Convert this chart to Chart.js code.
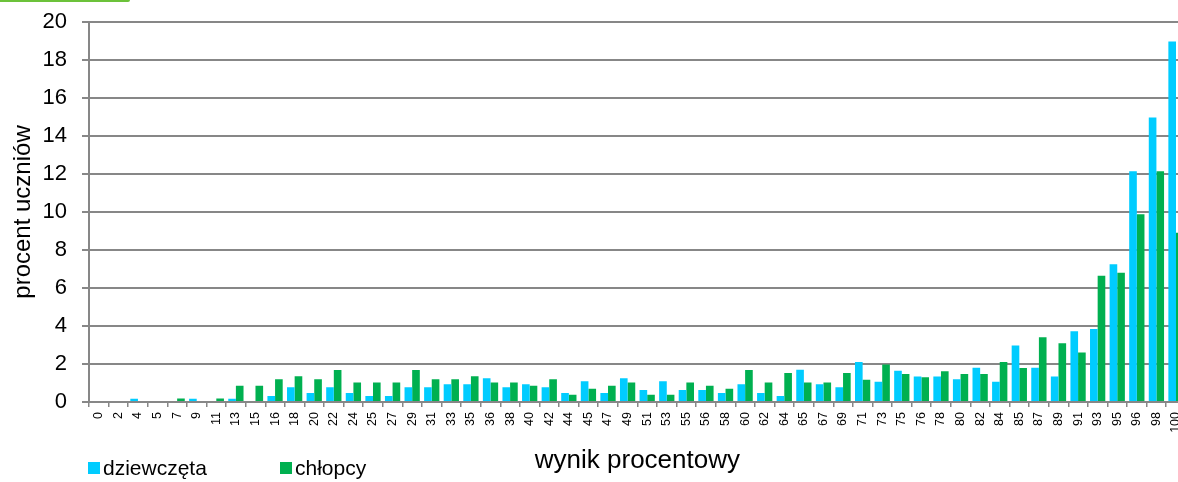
<!DOCTYPE html>
<html>
<head>
<meta charset="utf-8">
<script src="https://cdn.jsdelivr.net/npm/chart.js@4"></script>
<style>
  html, body { margin: 0; padding: 0; overflow: hidden; background: #fff; }
  .wrap { position: relative; width: 1196px; height: 482px; }
  .topline { position: absolute; left: 0; top: 0; width: 130px; height: 2px; background: #6cc23a; border-bottom-right-radius: 2px; }
  .legend { position: absolute; top: 456px; font-family: "Liberation Sans", Arial, sans-serif; font-size: 21px; color: #000; }
  .legend span.box { display: inline-block; width: 12px; height: 12px; margin-right: 3px; vertical-align: 1px; }
</style>
</head>
<body>
<div class="wrap">
  <canvas id="chart" width="1196" height="482"></canvas>
  <div class="topline"></div>
  <div class="legend" style="left:88px"><span class="box" style="background:#00CCFF"></span>dziewczęta</div>
  <div class="legend" style="left:280px"><span class="box" style="background:#00B050"></span>chłopcy</div>
</div>
<script>
const categories = ["0", "2", "4", "5", "7", "9", "11", "13", "15", "16", "18", "20", "22", "24",
  "25", "27", "29", "31", "33", "35", "36", "38", "40", "42", "44", "45", "47", "49", "51", "53",
  "55", "56", "58", "60", "62", "64", "65", "67", "69", "71", "73", "75", "76", "78", "80", "82",
  "84", "85", "87", "89", "91", "93", "95", "96", "98", "100"];

const girls = [0, 0, 0.17, 0, 0, 0.17, 0, 0.17, 0, 0.32, 0.78, 0.47, 0.78, 0.47,
  0.32, 0.32, 0.78, 0.78, 0.94, 0.94, 1.25, 0.78, 0.94, 0.78, 0.47, 1.09, 0.47, 1.25, 0.63, 1.09,
  0.63, 0.63, 0.47, 0.94, 0.47, 0.32, 1.7, 0.94, 0.78, 2.1, 1.07, 1.65, 1.34, 1.34, 1.2, 1.8,
  1.07, 2.98, 1.8, 1.34, 3.72, 3.84, 7.25, 12.15, 14.98, 18.98];

const boys = [0, 0, 0, 0, 0.18, 0, 0.18, 0.85, 0.85, 1.2, 1.36, 1.2, 1.68, 1.02,
  1.02, 1.02, 1.68, 1.2, 1.2, 1.36, 1.02, 1.02, 0.85, 1.2, 0.38, 0.7, 0.85, 1.02, 0.38, 0.38,
  1.02, 0.85, 0.7, 1.68, 1.02, 1.52, 1.02, 1.02, 1.52, 1.17, 1.97, 1.48, 1.3, 1.62, 1.48, 1.48,
  2.11, 1.79, 3.41, 3.09, 2.6, 6.64, 6.8, 9.88, 12.14, 8.91];

const yMin = 0;
const yMax = 20;
const yStep = 2;

const gridColor = "#878787";
const font = "'Liberation Sans', Arial, sans-serif";

new Chart(document.getElementById("chart"), {
  type: "bar",
  data: {
    labels: categories,
    datasets: [
      { label: "dziewczęta", data: girls, backgroundColor: "#00CCFF" },
      { label: "chłopcy", data: boys, backgroundColor: "#00B050" },
    ],
  },
  options: {
    responsive: false,
    animation: false,
    layout: { padding: { top: 22, right: 0, bottom: 0, left: 0 } },
    datasets: { bar: { categoryPercentage: 0.78, barPercentage: 1.0, borderWidth: 0 } },
    plugins: { legend: { display: false }, tooltip: { enabled: false } },
    scales: {
      x: {
        grid: { display: true, drawOnChartArea: false, offset: true, tickLength: 5, color: gridColor, lineWidth: 1.5 },
        border: { color: gridColor, width: 2 },
        ticks: { autoSkip: false, minRotation: 90, maxRotation: 90, padding: 5, color: "#000", font: { family: font, size: 12.5 } },
        title: { display: true, text: "wynik procentowy", color: "#000", font: { family: font, size: 26 }, padding: { top: 0, bottom: 6 } },
        afterFit: (scale) => { scale.height = 80; },
      },
      y: {
        min: yMin,
        max: yMax,
        grid: { color: gridColor, lineWidth: 2, tickLength: 7 },
        border: { color: gridColor, width: 2 },
        // small lineHeight keeps the label overhang from pushing the plot top down
        ticks: { stepSize: yStep, padding: 15, color: "#000", font: { family: font, size: 22, lineHeight: 0.5 } },
        title: { display: true, text: "procent uczniów", color: "#000", font: { family: font, size: 24 }, padding: { top: 9, bottom: 0 } },
        afterFit: (scale) => { scale.width = 89; },
      },
    },
  },
});
</script>
</body>
</html>
